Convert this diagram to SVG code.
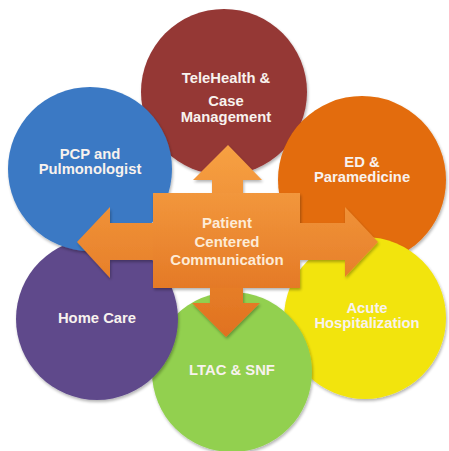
<svg xmlns="http://www.w3.org/2000/svg" width="449" height="451" viewBox="0 0 449 451">
  <defs>
    <filter id="soft" x="-10%" y="-10%" width="125%" height="125%">
      <feGaussianBlur in="SourceAlpha" stdDeviation="1.5"/>
      <feOffset dx="1" dy="2" result="b"/>
      <feComponentTransfer><feFuncA type="linear" slope="0.3"/></feComponentTransfer>
      <feMerge><feMergeNode/><feMergeNode in="SourceGraphic"/></feMerge>
    </filter>
    <linearGradient id="arrowFill" x1="0" y1="0" x2="0" y2="1">
      <stop offset="0" stop-color="#f7a143"/>
      <stop offset="1" stop-color="#e0711f"/>
    </linearGradient>
    <linearGradient id="boxFill" x1="0" y1="0" x2="0" y2="1">
      <stop offset="0" stop-color="#f39a40"/>
      <stop offset="1" stop-color="#e27323"/>
    </linearGradient>
  </defs>
  <style>
    .lbl { font-family: "Liberation Sans", Arial, sans-serif; font-weight: bold; font-size: 14.8px; fill: #f8f2ee; text-anchor: middle; }
    .hub { font-size: 15px; fill: #fdebd6; }
    circle { filter: url(#soft); }
  </style>

  <rect width="449" height="451" fill="#ffffff"/>

  <!-- outer ring of care settings, stacked so each overlaps the next -->
  <g id="telehealth">
    <circle cx="224" cy="92" r="83" fill="#953735"/>
    <text class="lbl" x="226" y="83">TeleHealth &amp;</text>
    <text class="lbl" x="226" y="106">Case</text>
    <text class="lbl" x="226" y="122">Management</text>
  </g>
  <g id="ed-paramedicine">
    <circle cx="362" cy="180" r="84" fill="#e36c0a"/>
    <text class="lbl" x="362" y="167">ED &amp;</text>
    <text class="lbl" x="362" y="182">Paramedicine</text>
  </g>
  <g id="acute-hospitalization">
    <circle cx="365" cy="318" r="81" fill="#f2e40f"/>
    <text class="lbl" x="367" y="313">Acute</text>
    <text class="lbl" x="367" y="328">Hospitalization</text>
  </g>
  <g id="ltac-snf">
    <circle cx="232" cy="372" r="80" fill="#92d050"/>
    <text class="lbl" x="232" y="375">LTAC &amp; SNF</text>
  </g>
  <g id="home-care">
    <circle cx="97" cy="319" r="81" fill="#5f4a8b"/>
    <text class="lbl" x="97" y="323">Home Care</text>
  </g>
  <g id="pcp-pulmonologist">
    <circle cx="90" cy="169" r="82" fill="#3a79c4"/>
    <text class="lbl" x="90" y="159">PCP and</text>
    <text class="lbl" x="90" y="174">Pulmonologist</text>
  </g>

  <!-- central four-way arrow -->
  <g id="connectors">
    <path filter="url(#soft)" fill="url(#arrowFill)"
      d="M228,145 L262,180 L243,180 L243,193 L300,193 L300,223 L345,223 L345,207 L378,242 L345,277 L345,260 L300,260 L300,288 L243,288 L243,303 L260,303 L226,337 L192,303 L210,303 L210,288 L153,288 L153,260 L110,260 L110,278 L77,242 L110,207 L110,223 L153,223 L153,193 L212,193 L212,180 L193,180 Z"/>
  </g>
  <g id="patient-centered-communication">
    <rect x="153" y="193" width="147" height="95" fill="url(#boxFill)" opacity="0.35"/>
    <text class="lbl hub" x="227" y="228">Patient</text>
    <text class="lbl hub" x="227" y="247">Centered</text>
    <text class="lbl hub" x="227" y="265">Communication</text>
  </g>
</svg>
